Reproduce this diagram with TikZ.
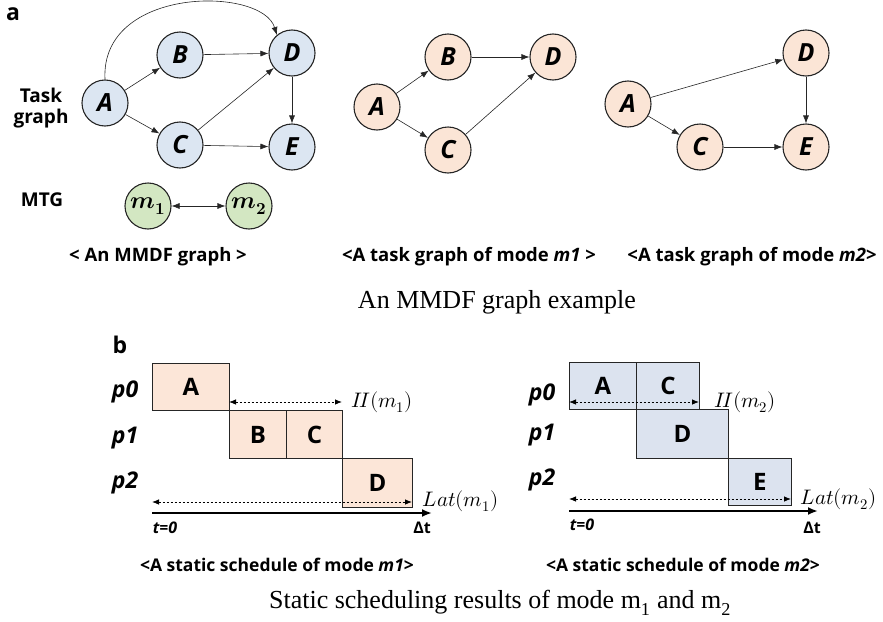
\documentclass[tikz,border=0pt]{standalone}
\usepackage{amsmath}
\usepackage{fontspec}
\usepackage{unicode-math}
\setmainfont{Liberation Serif}
\setmathfont{latinmodern-math.otf}
\newfontfamily\labelsans{Open Sans}
\usepackage{tikz}
\usetikzlibrary{positioning, arrows.meta}

\definecolor{taskblue}{HTML}{DCE6F2}
\definecolor{taskpeach}{HTML}{FBE5D6}
\definecolor{modegreen}{HTML}{D3E7C2}
\definecolor{slotpeach}{HTML}{FCE6D8}
\definecolor{slotblue}{HTML}{DCE3EF}
\definecolor{inkgray}{HTML}{262626}

\begin{document}
\begin{tikzpicture}[x=1pt, y=-1pt,
  task/.style={draw=inkgray, line width=1.1pt, circle, minimum size=46pt, inner sep=0pt,
    font=\labelsans\bfseries\itshape\fontsize{25}{25}\selectfont},
  edge/.style={-{Latex[length=8pt,width=6pt]}, line width=0.6pt, inkgray},
  slot/.style={draw=inkgray, line width=0.9pt, rectangle, anchor=north west, inner sep=0pt,
    font=\labelsans\bfseries\fontsize{24}{24}\selectfont},
  proc/.style={font=\labelsans\bfseries\itshape\fontsize{23}{23}\selectfont},
  dimarrow/.style={{Latex[length=7pt,width=5.5pt]}-{Latex[length=7pt,width=5.5pt]}, line width=0.8pt,
    dash pattern=on 2.5pt off 1.5pt},
  timeaxis/.style={-{Latex[length=10pt,width=8pt]}, line width=2pt},
  caption/.style={font=\labelsans\bfseries\fontsize{18.5}{18.5}\selectfont},
  title/.style={font=\fontsize{26}{26}\selectfont},
  mathlab/.style={font=\fontsize{21}{21}\selectfont}
]
\useasboundingbox (0,0) rectangle (883,621);

% ===== a: MMDF graph =====
\node[font=\labelsans\bfseries\fontsize{23}{23}\selectfont] (tagA) at (13,14) {a};
\node[font=\labelsans\bfseries\fontsize{19}{21}\selectfont, align=center] (tglabel) at (41,108) {Task\\graph};
\node[font=\labelsans\bfseries\fontsize{19}{19}\selectfont] (mtglabel) at (42,200) {MTG};

% Task graph of the MMDF graph
\node[task, fill=taskblue] (la) at (105,103) {A};
\node[task, fill=taskblue] (lb) at (180,55) {B};
\node[task, fill=taskblue] (ld) at (292,53) {D};
\node[task, fill=taskblue] (lc) at (180,145) {C};
\node[task, fill=taskblue] (le) at (292,147) {E};
\draw[edge] (la) -- (lb);
\draw[edge] (la) -- (lc);
\draw[edge] (lb) -- (ld);
\draw[edge] (lc) -- (ld);
\draw[edge] (lc) -- (le);
\draw[edge] (ld) -- (le);
\draw[edge] (la.north) .. controls (100,-14) and (262,-14) .. (ld.130);

% MTG
\node[task, fill=modegreen, font=\fontsize{24}{24}\selectfont] (mone) at (148,206) {$\symbfit{m}_{\symbf{1}}$};
\node[task, fill=modegreen, font=\fontsize{24}{24}\selectfont] (mtwo) at (249,206) {$\symbfit{m}_{\symbf{2}}$};
\draw[edge, {Latex[length=8pt,width=6pt]}-{Latex[length=8pt,width=6pt]}] (mone) -- (mtwo);

% Task graph of mode m1
\node[task, fill=taskpeach] (ma) at (377,107) {A};
\node[task, fill=taskpeach] (mb) at (448,57) {B};
\node[task, fill=taskpeach] (md) at (553,57) {D};
\node[task, fill=taskpeach] (mc) at (448,150) {C};
\draw[edge] (ma) -- (mb);
\draw[edge] (ma) -- (mc);
\draw[edge] (mb) -- (md);
\draw[edge] (mc) -- (md);

% Task graph of mode m2
\node[task, fill=taskpeach] (ra) at (628,104) {A};
\node[task, fill=taskpeach] (rd) at (806,53) {D};
\node[task, fill=taskpeach] (rc) at (700,147) {C};
\node[task, fill=taskpeach] (re) at (806,147) {E};
\draw[edge] (ra) -- (rd);
\draw[edge] (ra) -- (rc);
\draw[edge] (rc) -- (re);
\draw[edge] (rd) -- (re);

% Captions
\node[caption] (capmmdf) at (158,257) {< An MMDF graph >};
\node[caption] (capmone) at (469,257) {<A task graph of mode \textit{m1} >};
\node[caption] (capmtwo) at (752,257) {<A task graph of mode \textit{m2}>};
\node[title] (titlea) at (497,302) {An MMDF graph example};

% ===== b: static schedules =====
\node[font=\labelsans\bfseries\fontsize{23}{23}\selectfont] (tagB) at (120,345) {b};

% Schedule of mode m1
\node[proc] (lpzero) at (125,392) {p0};
\node[proc] (lpone) at (125,438) {p1};
\node[proc] (lptwo) at (125,483) {p2};
\node[slot, fill=slotpeach, minimum width=77pt, minimum height=47pt] (sa) at (152,363) {A};
\node[slot, fill=slotpeach, minimum width=57pt, minimum height=48pt] (sb) at (229,410) {B};
\node[slot, fill=slotpeach, minimum width=56pt, minimum height=48pt] (sc) at (286,410) {C};
\node[slot, fill=slotpeach, minimum width=70pt, minimum height=49pt] (sd) at (342,458) {D};
\coordinate (liil) at (229,402);
\coordinate (liir) at (342,402);
\coordinate (llatl) at (152,502);
\coordinate (llatr) at (412,502);
\coordinate (laxisl) at (152,513);
\coordinate (laxisr) at (432,513);
\draw[dimarrow] (liil) -- (liir) node[right=6pt, mathlab] (liilab) {$I\!I(m_1)$};
\draw[dimarrow] (llatl) -- (llatr) node[right=7pt, mathlab, yshift=1pt] (llatlab) {$Lat(m_1)$};
\draw[timeaxis] (laxisl) -- (laxisr);
\node[font=\labelsans\bfseries\itshape\fontsize{16}{16}\selectfont] (ltzero) at (165,528) {t=0};
\node[font=\labelsans\bfseries\fontsize{16}{16}\selectfont] (ldelta) at (422,528) {Δt};
\node[caption, font=\labelsans\bfseries\fontsize{17.5}{17.5}\selectfont] (capsone) at (277,565) {<A static schedule of mode \textit{m1}>};

% Schedule of mode m2
\node[proc] (rpzero) at (542,395) {p0};
\node[proc] (rpone) at (542,435) {p1};
\node[proc] (rptwo) at (542,480) {p2};
\node[slot, fill=slotblue, minimum width=67pt, minimum height=47pt] (ta) at (569,362) {A};
\node[slot, fill=slotblue, minimum width=63pt, minimum height=47pt] (tc) at (636,362) {C};
\node[slot, fill=slotblue, minimum width=92pt, minimum height=49pt] (td) at (636,409) {D};
\node[slot, fill=slotblue, minimum width=63pt, minimum height=47pt] (te) at (728,458) {E};
\coordinate (riil) at (569,402);
\coordinate (riir) at (699,402);
\coordinate (rlatl) at (569,499);
\coordinate (rlatr) at (791,499);
\coordinate (raxisl) at (569,511);
\coordinate (raxisr) at (818,511);
\draw[dimarrow] (riil) -- (riir) node[right=12pt, mathlab] (riilab) {$I\!I(m_2)$};
\draw[dimarrow] (rlatl) -- (rlatr) node[right=6pt, mathlab] (rlatlab) {$Lat(m_2)$};
\draw[timeaxis] (raxisl) -- (raxisr);
\node[font=\labelsans\bfseries\itshape\fontsize{16}{16}\selectfont] (rtzero) at (582,525) {t=0};
\node[font=\labelsans\bfseries\fontsize{16}{16}\selectfont] (rdelta) at (812,528) {Δt};
\node[caption, font=\labelsans\bfseries\fontsize{17.5}{17.5}\selectfont] (capstwo) at (683,565) {<A static schedule of mode \textit{m2}>};

\node[title] (titleb) at (500,603) {Static scheduling results of mode m\textsubscript{1} and m\textsubscript{2}};

\end{tikzpicture}
\end{document}
